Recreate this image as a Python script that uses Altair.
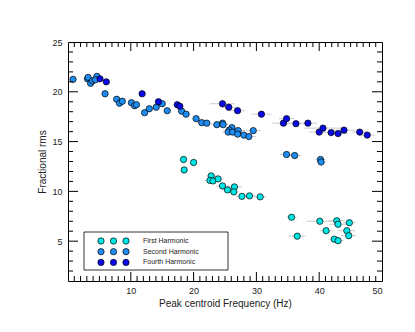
import altair as alt
import pandas as pd

series_names = ["First Harmonic", "Second Harmonic", "Fourth Harmonic"]
series_colors = ["#00e6e6", "#1e8cf0", "#0a0ae6"]

first_x = [18.4, 20.0, 18.5, 22.8, 22.6, 23.1, 23.9, 24.6, 25.4, 26.5, 26.4, 27.7, 28.9, 30.6,
           35.6, 36.5, 40.1, 41.1, 42.8, 43.0, 44.8, 42.4, 43.0, 44.4, 44.7]
first_y = [13.2, 12.9, 12.15, 11.55, 11.1, 11.05, 11.25, 10.55, 10.15, 10.45, 9.95, 9.5, 9.55, 9.45,
           7.4, 5.5, 7.0, 6.05, 7.05, 6.7, 6.85, 5.2, 5.05, 6.05, 5.55]
first_err = [0.4, 0.5, 0.4, 0.8, 1.0, 0.8, 0.7, 1.0, 0.9, 1.2, 0.8, 1.0, 0.9, 1.0,
             0.8, 1.3, 2.1, 1.0, 1.3, 1.4, 1.0, 0.8, 0.9, 1.4, 1.2]

second_x = [0.8, 3.1, 3.2, 3.6, 3.9, 4.6, 4.35, 5.9, 7.75, 8.2, 8.65, 10.1, 10.6, 10.9, 12.2,
            12.95, 14.05, 15.0, 15.8, 18.1, 18.8, 20.4, 21.3, 22.1, 23.7, 24.6, 24.7, 26.1,
            25.7, 25.5, 26.2, 27.1, 27.0, 28.0, 28.8, 29.5, 34.8, 36.1, 40.2, 40.3]
second_y = [21.25, 21.3, 21.45, 20.85, 21.1, 21.55, 21.2, 19.8, 19.25, 18.85, 19.05, 18.9, 18.6,
            18.7, 17.9, 18.3, 18.45, 18.8, 18.1, 18.05, 17.75, 17.3, 16.9, 16.85, 16.7, 16.85,
            16.7, 16.4, 16.15, 15.95, 15.95, 16.1, 15.75, 15.65, 15.5, 16.1, 13.7, 13.6, 13.2, 12.95]
second_err = [0.2, 0.3, 0.3, 0.3, 0.3, 0.3, 0.3, 0.4, 0.4, 0.4, 0.4, 0.5, 0.5, 0.5, 0.5,
              0.6, 0.6, 0.6, 0.6, 0.7, 0.7, 0.7, 0.8, 0.8, 0.9, 0.9, 0.9, 1.0,
              1.0, 1.0, 1.0, 1.1, 1.1, 1.1, 1.2, 1.2, 1.0, 1.0, 0.8, 0.8]

fourth_x = [5.1, 6.1, 11.8, 14.4, 17.4, 17.8, 24.6, 25.6, 27.0, 30.8, 34.3, 34.8, 36.3, 38.2,
            40.0, 40.6, 41.9, 43.0, 43.95, 46.45, 47.65]
fourth_y = [21.3, 21.0, 19.8, 19.0, 18.7, 18.55, 18.8, 18.45, 18.1, 17.75, 16.85, 17.3, 16.8,
            16.85, 15.95, 16.35, 15.9, 15.8, 16.15, 15.95, 15.65]
fourth_err = [0.3, 0.3, 0.5, 0.6, 0.7, 0.7, 2.0, 1.2, 1.2, 1.6, 1.8, 1.2, 1.4, 1.5,
              1.6, 3.0, 1.4, 1.6, 1.9, 1.2, 1.3]

x_labels = [10, 20, 30, 40, 50]
y_labels = [5, 10, 15, 20, 25]
x_major = [10, 20, 30, 40]
x_minor = [v for v in range(1, 50) if v % 10 != 0]
y_major = [5, 10, 15, 20]
y_minor = [v for v in range(2, 25) if v % 5 != 0]

rows = []
for name, xs, ys, es in [(series_names[0], first_x, first_y, first_err),
                         (series_names[1], second_x, second_y, second_err),
                         (series_names[2], fourth_x, fourth_y, fourth_err)]:
    for xv, yv, ev in zip(xs, ys, es):
        rows.append({"series": name, "x": xv, "y": yv, "xlo": xv - ev, "xhi": xv + ev})
df = pd.DataFrame(rows)

W, H = 314, 239
FONT = "Liberation Sans"
xscale = alt.Scale(domain=[0, 50], nice=False, zero=False)
yscale = alt.Scale(domain=[1, 25], nice=False, zero=False)
cscale = alt.Scale(domain=series_names, range=series_colors)

errbars = alt.Chart(df).mark_rule(color="#cccccc", strokeWidth=1).encode(
    x=alt.X("xlo:Q", scale=xscale,
            axis=alt.Axis(values=x_labels, ticks=False, domain=False, grid=False,
                          labelFontSize=9, labelFont=FONT, labelColor="#222",
                          labelPadding=5, title="Peak centroid Frequency (Hz)",
                          titleFont=FONT, titleFontSize=10, titleFontWeight="normal",
                          titleColor="#222", titlePadding=3)),
    x2="xhi:Q",
    y=alt.Y("y:Q", scale=yscale,
            axis=alt.Axis(values=y_labels, ticks=False, domain=False, grid=False,
                          labelFontSize=9, labelFont=FONT, labelColor="#222",
                          labelPadding=6, title="Fractional rms",
                          titleFont=FONT, titleFontSize=10, titleFontWeight="normal",
                          titleColor="#222", titlePadding=4)),
)

points = alt.Chart(df).mark_circle(size=40, stroke="black", strokeWidth=0.7, opacity=1).encode(
    x=alt.X("x:Q", scale=xscale),
    y=alt.Y("y:Q", scale=yscale),
    color=alt.Color("series:N", scale=cscale, legend=None),
)

def xticks(vals, y0, y1):
    return alt.Chart(pd.DataFrame({"v": vals})).mark_rule(color="black", strokeWidth=1).encode(
        x=alt.X("v:Q", scale=xscale), y=alt.value(y0), y2=alt.value(y1))

def yticks(vals, x0, x1):
    return alt.Chart(pd.DataFrame({"v": vals})).mark_rule(color="black", strokeWidth=1).encode(
        y=alt.Y("v:Q", scale=yscale), x=alt.value(x0), x2=alt.value(x1))

ticks = [
    xticks(x_major, H, H - 9), xticks(x_minor, H, H - 5),
    xticks(x_major, 0, 9), xticks(x_minor, 0, 5),
    yticks(y_major, 0, 10), yticks(y_minor, 0, 5),
    yticks(y_major, W, W - 10), yticks(y_minor, W, W - 5),
]

legend_box = alt.Chart(pd.DataFrame({"a": [0]})).mark_rect(
    fill="white", stroke="black", strokeWidth=0.8).encode(
    x=alt.value(16), x2=alt.value(160), y=alt.value(190), y2=alt.value(228))

legend_layers = [legend_box]
for i, (name, col) in enumerate(zip(series_names, series_colors)):
    ly = 199 + 10.7 * i
    for j in range(3):
        legend_layers.append(
            alt.Chart(pd.DataFrame({"s": [name]})).mark_circle(
                size=40, color=col, stroke="black", strokeWidth=0.7, opacity=1).encode(
                x=alt.value(33 + 12.5 * j), y=alt.value(ly)))
    legend_layers.append(
        alt.Chart(pd.DataFrame({"s": [name]})).mark_text(
            align="left", baseline="middle", fontSize=7, font=FONT, color="#222").encode(
            x=alt.value(75), y=alt.value(ly), text="s:N"))

chart = alt.layer(errbars, points, *ticks, *legend_layers).properties(
    width=W, height=H,
    autosize=alt.AutoSizeParams(type="none"),
    padding={"left": 60, "top": 34, "right": 25, "bottom": 43},
).configure_view(stroke="black", strokeWidth=1)

chart.save("out.html", embed_options={"renderer": "svg", "actions": False})
